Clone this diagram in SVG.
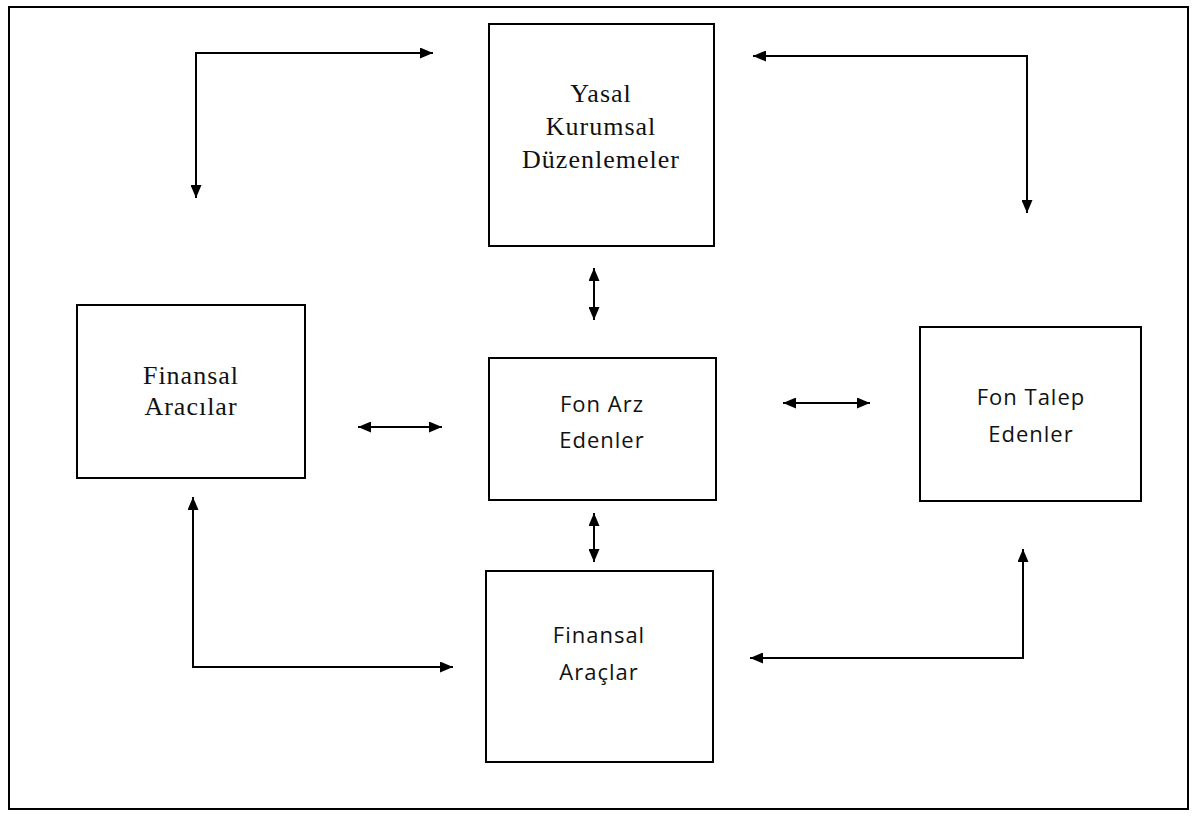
<svg xmlns="http://www.w3.org/2000/svg" width="1197" height="817" viewBox="0 0 1197 817">
<defs>
<marker id="ah" viewBox="0 0 13 11" refX="13" refY="5.5" markerWidth="13" markerHeight="11" markerUnits="userSpaceOnUse" orient="auto-start-reverse">
<path d="M0,0 L13,5.5 L0,11 Z" fill="#000"/>
</marker>
</defs>
<style>
.box{fill:#fff;stroke:#000;stroke-width:2}
.ser{font-family:"Liberation Serif","Times New Roman",serif;font-size:26px;fill:#111;text-anchor:middle;letter-spacing:1px}
.san{font-family:"Open Sans","Liberation Sans",sans-serif;font-size:22px;fill:#111;text-anchor:middle;letter-spacing:1px}
.ln{fill:none;stroke:#000;stroke-width:2}
</style>
<rect x="0" y="0" width="1197" height="817" fill="#fff"/>
<rect id="frame" x="9" y="7" width="1179" height="802" fill="none" stroke="#000" stroke-width="2"/>
<g id="yasal">
<rect class="box" x="489" y="24" width="225" height="222"/>
<text class="ser" x="601" y="102">Yasal</text>
<text class="ser" x="601" y="135">Kurumsal</text>
<text class="ser" x="601" y="168">Düzenlemeler</text>
</g>
<g id="aracilar">
<rect class="box" x="77" y="305" width="228" height="173"/>
<text class="ser" x="191" y="384">Finansal</text>
<text class="ser" x="191" y="415">Aracılar</text>
</g>
<g id="fonarz">
<rect class="box" x="489" y="358" width="227" height="142"/>
<text class="san" x="602" y="412">Fon Arz</text>
<text class="san" x="602" y="448">Edenler</text>
</g>
<g id="fontalep">
<rect class="box" x="920" y="327" width="221" height="174"/>
<text class="san" x="1031" y="405">Fon Talep</text>
<text class="san" x="1031" y="442">Edenler</text>
</g>
<g id="araclar">
<rect class="box" x="486" y="571" width="227" height="191"/>
<text class="san" x="599" y="643">Finansal</text>
<text class="san" x="599" y="680">Araçlar</text>
</g>
<g id="connectors">
<path class="ln" d="M433,53 H196 V198" marker-start="url(#ah)" marker-end="url(#ah)"/>
<path class="ln" d="M753,56 H1027 V213" marker-start="url(#ah)" marker-end="url(#ah)"/>
<path class="ln" d="M193,497 V667 H453" marker-start="url(#ah)" marker-end="url(#ah)"/>
<path class="ln" d="M1023,549 V658 H750" marker-start="url(#ah)" marker-end="url(#ah)"/>
<path class="ln" d="M358,427 H442" marker-start="url(#ah)" marker-end="url(#ah)"/>
<path class="ln" d="M783,403 H870" marker-start="url(#ah)" marker-end="url(#ah)"/>
<path class="ln" d="M594,268 V320" marker-start="url(#ah)" marker-end="url(#ah)"/>
<path class="ln" d="M594,513 V562" marker-start="url(#ah)" marker-end="url(#ah)"/>
</g>
</svg>
